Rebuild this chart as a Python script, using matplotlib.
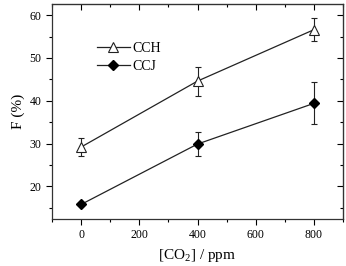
import numpy as np
import matplotlib.pyplot as plt
from matplotlib.lines import Line2D

plt.rcParams["font.family"] = ["Liberation Serif", "DejaVu Serif"]
plt.rcParams["mathtext.fontset"] = "custom"
plt.rcParams["mathtext.rm"] = "Liberation Serif"

co2 = [0, 400, 800]
cch = [29.2, 44.6, 56.6]
cch_err = [2.1, 3.4, 2.7]
ccj = [15.8, 29.9, 39.4]
ccj_err = [0.0, 2.9, 4.9]

fig = plt.figure(figsize=(3.46, 2.66), dpi=100)
ax = fig.add_axes([52 / 346, 1 - 219 / 266, 291 / 346, 215 / 266])

ax.errorbar(co2, cch, yerr=cch_err, color="#222222", lw=0.9, marker="^", ms=6.5,
            mfc="white", mec="#222222", mew=0.8, capsize=2.5, elinewidth=0.8,
            capthick=0.8)
ax.errorbar(co2, ccj, yerr=ccj_err, color="#222222", lw=0.9, marker="D", ms=5.5,
            mfc="black", mec="black", capsize=2.5, elinewidth=0.8,
            capthick=0.8)

ax.set_xlim(-100, 900)
ax.set_ylim(12.4, 62.6)
ax.set_xticks([0, 200, 400, 600, 800])
ax.set_yticks([20, 30, 40, 50, 60])
ax.set_xticks(np.arange(-100, 901, 100), minor=True)
ax.set_yticks(np.arange(15, 62, 5), minor=True)

ax.tick_params(which="both", direction="out", labelsize=8.5, width=0.8)
ax.tick_params(which="major", length=4)
ax.tick_params(which="minor", length=2.5)
for sp in ax.spines.values():
    sp.set_linewidth(0.9)
    sp.set_color("#333333")

ax2 = ax.secondary_xaxis("top")
ax2.set_xticks([0, 200, 400, 600, 800])
ax2.set_xticks(np.arange(-100, 901, 100), minor=True)
ax2.tick_params(which="both", direction="in", labeltop=False, width=0.8)
ax2.tick_params(which="major", length=4)
ax2.tick_params(which="minor", length=2.5)
ax3 = ax.secondary_yaxis("right")
ax3.set_yticks([20, 30, 40, 50, 60])
ax3.set_yticks(np.arange(15, 62, 5), minor=True)
ax3.tick_params(which="both", direction="in", labelright=False, width=0.8)
ax3.tick_params(which="major", length=4)
ax3.tick_params(which="minor", length=2.5)

ax.set_xlabel("[CO$_2$] / ppm", fontsize=11, labelpad=4)
ax.set_ylabel("F (%)", fontsize=11, labelpad=3)

handles = [
    Line2D([], [], color="#222222", lw=0.9, marker="^", ms=6.5, mfc="white",
           mec="#222222", mew=0.8),
    Line2D([], [], color="#222222", lw=0.9, marker="D", ms=5.5, mfc="black",
           mec="black"),
]
ax.legend(handles, ["CCH", "CCJ"], loc="upper left",
          bbox_to_anchor=(0.11, 0.88), frameon=False, fontsize=10,
          handlelength=2.4, handletextpad=0.2, labelspacing=0.35)

fig.savefig("out.png", dpi=100)
